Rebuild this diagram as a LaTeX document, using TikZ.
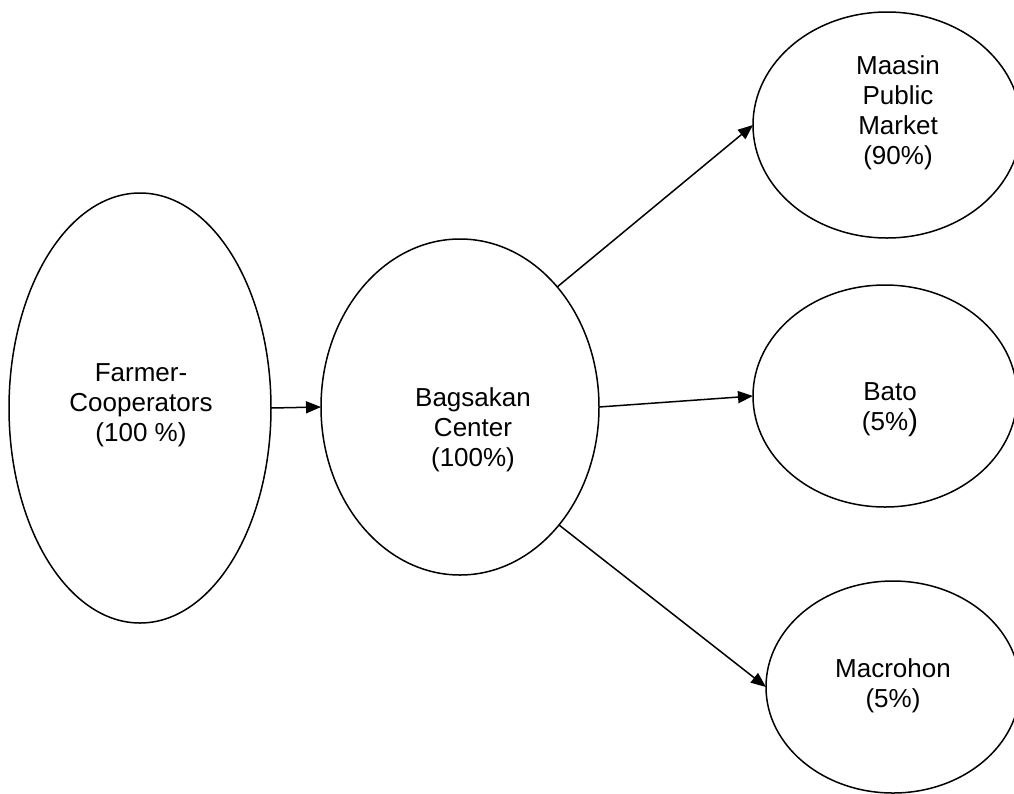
\documentclass[tikz,border=0pt]{standalone}
\usepackage{fontspec}
\setmainfont{Liberation Sans}
\usetikzlibrary{shapes.geometric,arrows.meta}
\begin{document}
\begin{tikzpicture}[x=1pt,y=-1pt,
  oval/.style={draw,ellipse,line width=1.5pt,inner sep=0pt,outer sep=0pt},
  lbl/.style={align=center,inner sep=0pt,font=\fontsize{26}{30}\selectfont},
  flow/.style={line width=1.5pt,-{Triangle[length=15pt,width=12pt]}}]
\clip (0,0) rectangle (1014,793);
\fill[white] (0,0) rectangle (1014,793);
\node[oval,minimum width=262pt,minimum height=430pt] (farm) at (140,408) {};
\node[oval,minimum width=278pt,minimum height=336pt] (bag) at (460,407) {};
\node[oval,minimum width=268pt,minimum height=226pt] (maa) at (887,125) {};
\node[oval,minimum width=264pt,minimum height=222pt] (bato) at (885,396) {};
\node[oval,minimum width=254pt,minimum height=212pt] (mac) at (893,687) {};
\node[lbl] (tfarm) at (141,405) {Farmer-\\Cooperators\\(100 \%)};
\node[lbl] (tbag) at (473,430) {Bagsakan\\Center\\(100\%)};
\node[lbl] (tmaa) at (898,113) {Maasin\\Public\\Market\\(90\%)};
\node[lbl] (tbato) at (890,410) {Bato\\(5\%{\fontsize{30}{30}\selectfont)}};
\node[lbl] (tmac) at (893,686) {Macrohon\\(5\%)};
\draw[flow] (farm.east) -- (bag.west);
\draw[flow] (bag.51) -- (maa.west);
\draw[flow] (bag.east) -- (bato.west);
\draw[flow] (bag.-50) -- (mac.west);
\end{tikzpicture}
\end{document}
